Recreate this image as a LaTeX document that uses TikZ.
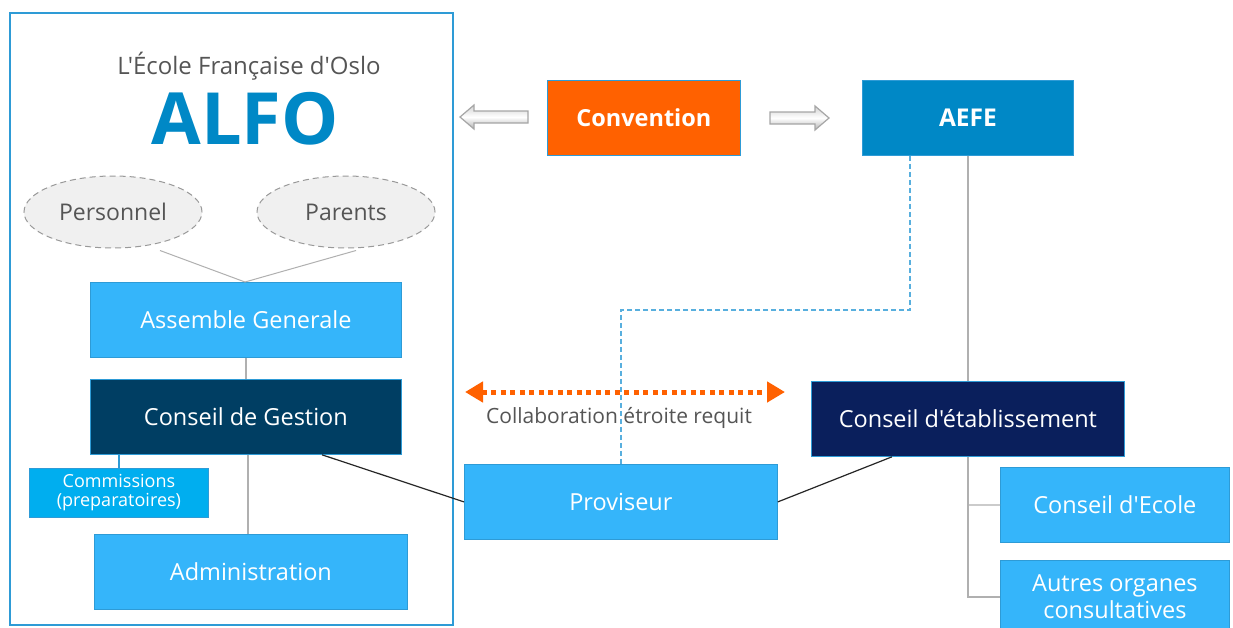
\documentclass[tikz,border=0pt]{standalone}
\usepackage{fontspec}
\setmainfont{Open Sans}[Ligatures=TeXOff]
\usetikzlibrary{arrows.meta,shapes.geometric,calc}
\definecolor{lightblue}{HTML}{35B5FA}
\definecolor{commblue}{HTML}{00AEEF}
\definecolor{darkteal}{HTML}{003E63}
\definecolor{navy}{HTML}{0A1F5C}
\definecolor{aefe}{HTML}{0088C6}
\definecolor{orangec}{HTML}{FF6100}
\definecolor{framec}{HTML}{2E9BD6}
\definecolor{txtgray}{HTML}{555555}
\definecolor{linegray}{HTML}{B0B0B0}
\tikzset{
  box/.style={draw=framec, line width=0.8pt, minimum width=#1, minimum height=75pt, inner sep=0pt, text=white, font=\fontsize{23.5}{27}\selectfont, align=center},
  box/.default=311pt,
  oval/.style={ellipse, draw=gray!80, dashed, dash pattern=on 6pt off 4pt, line width=1pt, fill=gray!12, minimum width=178pt, minimum height=72pt, text=txtgray, font=\fontsize{23}{27}\selectfont},
  thin/.style={draw=linegray, line width=1.2pt},
  dark/.style={draw=black!85, line width=1.2pt},
  blockarrow/.style={draw=gray!70, line width=1.2pt, top color=gray!35, bottom color=gray!60, middle color=white},
}
\begin{document}
\begin{tikzpicture}[x=1pt,y=-1pt]
\useasboundingbox (0,0) rectangle (1233,627);
\fill[white] (0,0) rectangle (1233,627);
% outer frame
\draw[framec, line width=1.2pt] (10,13) rectangle (453,625);
\node[text=txtgray, font=\fontsize{24}{28}\selectfont] (title) at (249,66) {L'École Française d'Oslo};
\node[text=aefe, font=\fontsize{72}{80}\selectfont\bfseries] (alfo) at (245,119) {ALFO};
% ellipses
\node[oval] (pers) at (113,212) {Personnel};
\node[oval] (par) at (346,212) {Parents};
% boxes left
\node[box, fill=lightblue, anchor=north west] (ag) at (90,282) {Assemble Generale};
\node[box, fill=darkteal, anchor=north west] (cg) at (90,379) {Conseil de Gestion};
\node[box=179pt, fill=commblue, minimum height=49pt, anchor=north west, font=\fontsize{18}{19}\selectfont] (comm) at (29,468) {Commissions\\(preparatoires)};
\node[box=313pt, fill=lightblue, anchor=north west] (adm) at (94,534) {Administration};
% convention and aefe
\node[box=193pt, fill=orangec, anchor=north west, font=\fontsize{23.5}{27}\selectfont\bfseries] (conv) at (547,80) {Convention};
\node[box=211pt, fill=aefe, anchor=north west, font=\fontsize{24.5}{27}\selectfont\bfseries] (aefe) at (862,80) {AEFE};
% right side
\node[box=313pt, fill=navy, anchor=north west] (ce) at (811,381) {Conseil d'établissement};
\node[box=313pt, fill=lightblue, anchor=north west] (prov) at (464,464) {Proviseur};
\node[box=229pt, fill=lightblue, anchor=north west] (cecole) at (1000,467) {Conseil d'Ecole};
\node[box=229pt, fill=lightblue, minimum height=72pt, anchor=north west] (autres) at (1000,560) {Autres organes\\consultatives};
% block arrows
\draw[blockarrow] (460,117) -- (474,105) -- (474,111) -- (528,111) -- (528,123) -- (474,123) -- (474,129) -- cycle;
\draw[blockarrow] (829,118) -- (815,106) -- (815,112) -- (770,112) -- (770,124) -- (815,124) -- (815,130) -- cycle;
% connectors
\coordinate (agtop) at (245,282);
\draw[thin, line width=1pt] (pers.south) ++(47,2) -- (agtop);
\draw[thin, line width=1pt] (par.south) ++(10,2) -- (agtop);
\draw[thin] (ag.south -| 246,0) -- (cg.north -| 246,0);
\draw[framec, line width=1.2pt] (cg.south -| 119,0) -- (comm.north -| 119,0);
\draw[thin] (cg.south -| 248,0) -- (adm.north -| 248,0);
\draw[dark] (cg.south -| 322,0) -- (prov.west);
\draw[dark] (prov.east) -- (ce.south -| 892,0);
\draw[framec!80, dashed, dash pattern=on 5pt off 3pt, line width=1.3pt] (aefe.south -| 910,0) -- (910,310) -- (621,310) -- (prov.north -| 621,0);
\draw[thin] (aefe.south -| 968,0) -- (ce.north -| 968,0);
\draw[thin] (ce.south -| 968,0) -- (968,597) -- (autres.west |- 0,597);
\draw[thin] (968,505) -- (cecole.west);
% collaboration arrow
\coordinate (cl) at (465,392);
\coordinate (cr) at (785,392);
\draw[orangec, line width=5pt, dash pattern=on 5pt off 4.5pt, {Triangle[length=18pt,width=20pt]}-{Triangle[length=18pt,width=20pt]}] (cl) -- (cr);
\node[text=txtgray, font=\fontsize{21}{24}\selectfont] (collab) at (619,418) {Collaboration étroite requit};
\end{tikzpicture}
\end{document}
